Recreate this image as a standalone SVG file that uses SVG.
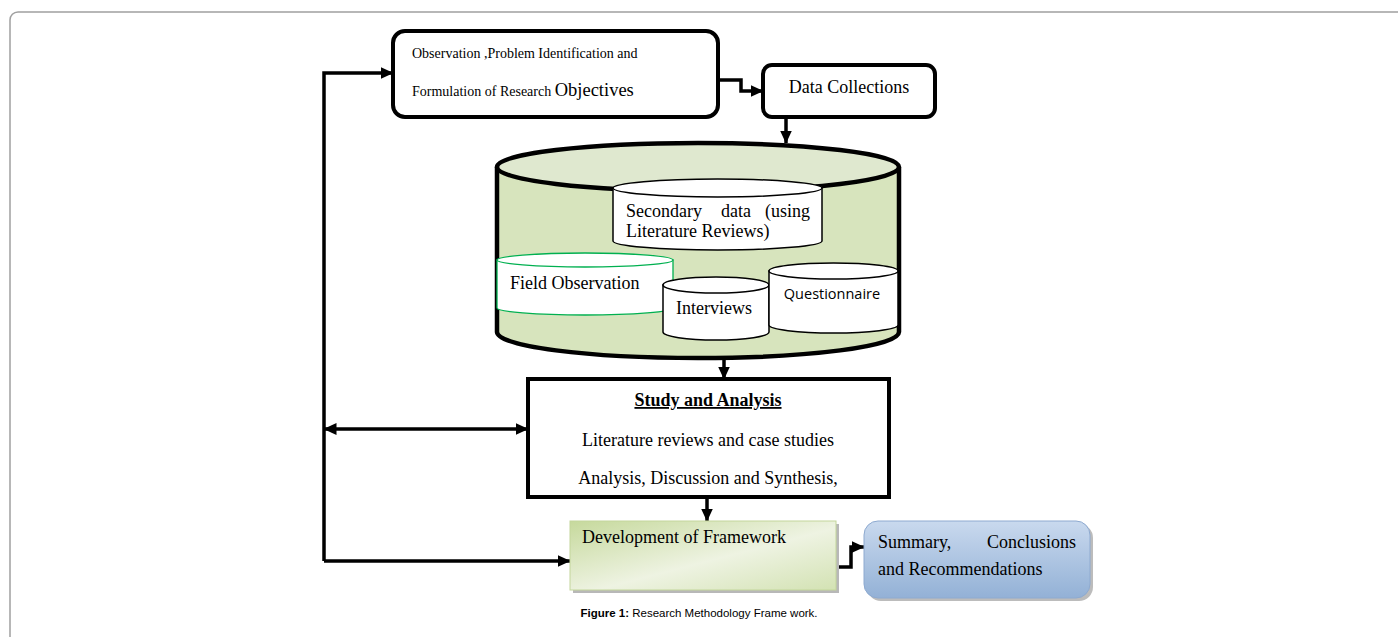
<svg xmlns="http://www.w3.org/2000/svg" width="1398" height="637" viewBox="0 0 1398 637">
<style>
.t{font-family:"Liberation Serif","Times New Roman",serif;font-size:18px;fill:#000}
.cyl{fill:#fff;stroke:#000;stroke-width:1.5}
.box{fill:#fff;stroke:#000;stroke-width:4}
.con{fill:none;stroke:#000;stroke-width:3.5}
</style>
<defs>
<marker id="ah" markerUnits="userSpaceOnUse" markerWidth="13" markerHeight="13" viewBox="0 0 13 13" refX="12.5" refY="6.5" orient="auto-start-reverse">
<path d="M0,0.5 L13,6.5 L0,12.5 Z" fill="#000"/>
</marker>
<linearGradient id="gGreen" x1="0" y1="0" x2="1" y2="1">
<stop offset="0" stop-color="#c6d99c"/>
<stop offset="0.55" stop-color="#eef3e2"/>
<stop offset="1" stop-color="#d3e2b3"/>
</linearGradient>
<linearGradient id="gBlue" x1="0" y1="0" x2="0" y2="1">
<stop offset="0" stop-color="#c9d9ee"/>
<stop offset="1" stop-color="#93b1d6"/>
</linearGradient>
</defs>
<rect width="1398" height="637" fill="#fff"/>
<rect x="10" y="12" width="1420" height="660" rx="8" fill="none" stroke="#a0a0a0" stroke-width="1.5"/>

<g id="connectors">
<path class="con" d="M324,561 V73 H393" marker-end="url(#ah)"/>
<path class="con" d="M324,429 H528" marker-start="url(#ah)" marker-end="url(#ah)"/>
<path class="con" d="M324,561 H570" marker-end="url(#ah)"/>
<path class="con" d="M718,80 H741 V91 H763" marker-end="url(#ah)"/>
<path class="con" d="M786,117 V143" marker-end="url(#ah)"/>
<path class="con" d="M724,358 V379" marker-end="url(#ah)"/>
<path class="con" d="M707,497 V521" marker-end="url(#ah)"/>
<path class="con" d="M836,567 H851 V547 H864" marker-end="url(#ah)"/>
</g>

<g id="node-objectives">
<rect class="box" x="393" y="31" width="325" height="86" rx="12"/>
<text class="t" x="412" y="58" style="font-size:14px">Observation ,Problem Identification and</text>
<text class="t" x="412" y="96" style="font-size:14px">Formulation of Research <tspan style="font-size:18.5px">Objectives</tspan></text>
</g>

<g id="node-data-collections">
<rect class="box" x="763" y="65" width="172" height="52" rx="9"/>
<text class="t" x="849" y="93" text-anchor="middle">Data Collections</text>
</g>

<g id="node-data-store">
<path d="M497,167 V332 A201,26 0 0 0 899,332 V167 Z" fill="#d7e4bd"/>
<path d="M497,167 V332 A201,26 0 0 0 899,332 V167" fill="none" stroke="#000" stroke-width="4.5"/>
<ellipse cx="698" cy="167" rx="201" ry="24" fill="#dfe8cf" stroke="#000" stroke-width="4.5"/>
</g>

<g id="node-secondary">
<path class="cyl" d="M613,188 V241 A104.5,9 0 0 0 822,241 V188 Z"/>
<ellipse class="cyl" cx="717.5" cy="188" rx="104.5" ry="9"/>
<text class="t" x="626" y="217">Secondary</text>
<text class="t" x="736" y="217" text-anchor="middle">data</text>
<text class="t" x="810" y="217" text-anchor="end">(using</text>
<text class="t" x="626" y="237">Literature Reviews)</text>
</g>

<g id="node-field-observation">
<path d="M497,260 V308 A88,7 0 0 0 673,308 V260 Z" fill="#fff" stroke="#00b050" stroke-width="1.3"/>
<ellipse cx="585" cy="260" rx="88" ry="7" fill="#fff" stroke="#00b050" stroke-width="1.3"/>
<text class="t" x="510" y="289">Field Observation</text>
</g>

<g id="node-interviews">
<path class="cyl" d="M663,285 V332 A53,8 0 0 0 769,332 V285 Z"/>
<ellipse class="cyl" cx="716" cy="285" rx="53" ry="8"/>
<text class="t" x="676" y="314">Interviews</text>
</g>

<g id="node-questionnaire">
<path class="cyl" d="M769,271 V325 A64.5,8 0 0 0 898,325 V271 Z"/>
<ellipse class="cyl" cx="833.5" cy="271" rx="64.5" ry="8"/>
<text x="832" y="299" text-anchor="middle" style="font-family:'Open Sans','Noto Sans',sans-serif;font-size:14.5px">Questionnaire</text>
</g>

<g id="node-study">
<rect class="box" x="528" y="379" width="361" height="118"/>
<text class="t" x="708" y="406" text-anchor="middle" font-weight="bold" text-decoration="underline">Study and Analysis</text>
<text class="t" x="708" y="446" text-anchor="middle">Literature reviews and case studies</text>
<text class="t" x="708" y="484" text-anchor="middle">Analysis, Discussion and Synthesis,</text>
</g>

<g id="node-framework">
<rect x="573" y="524" width="266" height="69" fill="#b8b8b8"/>
<rect x="570" y="521" width="266" height="69" fill="url(#gGreen)" stroke="#c3d69b" stroke-width="1"/>
<text class="t" x="582" y="543">Development of Framework</text>
</g>

<g id="node-summary">
<rect x="867" y="524" width="226" height="77" rx="14" fill="#bcbcbc"/>
<rect x="864" y="521" width="226" height="77" rx="14" fill="url(#gBlue)" stroke="#8eaad0" stroke-width="1"/>
<text class="t" x="878" y="548">Summary,</text>
<text class="t" x="1076" y="548" text-anchor="end">Conclusions</text>
<text class="t" x="878" y="575">and Recommendations</text>
</g>

<text x="699" y="617" text-anchor="middle" style="font-family:'Liberation Sans',Arial,sans-serif;font-size:11.5px"><tspan font-weight="bold">Figure 1:</tspan> Research Methodology Frame work.</text>
</svg>
